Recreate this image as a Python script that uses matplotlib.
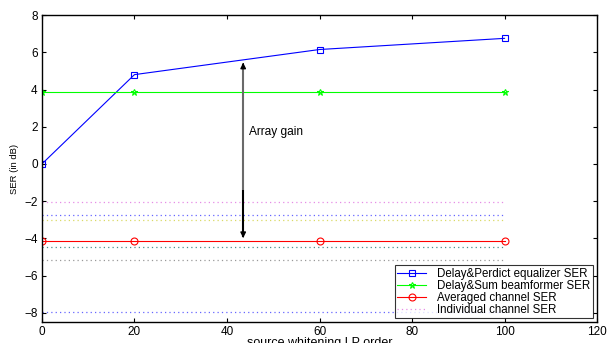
import matplotlib
matplotlib.use("Agg")
import matplotlib.pyplot as plt

plt.rcParams['font.family'] = ['Liberation Sans', 'DejaVu Sans']

orders = [0, 20, 60, 100]
dp_ser = [0.0, 4.8, 6.15, 6.75]
ds_ser = [3.85, 3.85, 3.85, 3.85]
avg_ser = [-4.13, -4.13, -4.13, -4.13]
indiv_x = [0, 100]
indiv_levels = [-2.02, -2.72, -3.04, -4.47, -5.14, -7.96]
indiv_colors = ['#e070e0', '#4040ff', '#d0d040', '#207070', '#808080', '#4040ff']
arrow_x = 43.5
arrow_top = 5.59
arrow_bottom = -4.13

fig = plt.figure(figsize=(6.08, 3.43), dpi=100)
ax = fig.add_axes([0.069, 0.061, 0.913, 0.895])

ax.plot(orders, dp_ser, '-s', color='blue', lw=0.8, ms=4, mfc='none', mew=0.8,
        label='Delay&Perdict equalizer SER')
ax.plot(orders, ds_ser, '-*', color='#00ff00', lw=0.8, ms=5, mfc='none', mew=0.8,
        label='Delay&Sum beamformer SER')
ax.plot(orders, avg_ser, '-o', color='red', lw=0.8, ms=5, mfc='none', mew=0.8,
        label='Averaged channel SER')
for i, (lvl, c) in enumerate(zip(indiv_levels, indiv_colors)):
    ax.plot(indiv_x, [lvl, lvl], linestyle=(0, (1, 2.5)), color=c, lw=0.9, alpha=0.8,
            label='Individual channel SER' if i == 0 else None)

mid = -1.4
ax.plot([arrow_x, arrow_x], [mid, arrow_top - 0.2], color='#6a6a6a', lw=1.5, zorder=6,
        solid_capstyle='butt')
ax.plot([arrow_x, arrow_x], [arrow_bottom + 0.2, mid], color='black', lw=1.5, zorder=6,
        solid_capstyle='butt')
ax.annotate('', xy=(arrow_x, arrow_top), xytext=(arrow_x, arrow_top - 0.4),
            arrowprops=dict(arrowstyle='-|>', color='black', lw=1, mutation_scale=8), zorder=7)
ax.annotate('', xy=(arrow_x, arrow_bottom), xytext=(arrow_x, arrow_bottom + 0.4),
            arrowprops=dict(arrowstyle='-|>', color='black', lw=1, mutation_scale=8), zorder=7)
ax.text(44.8, 1.7, 'Array gain', fontsize=8.6, va='center', ha='left')

ax.set_xlim(0, 120)
ax.set_ylim(-8.5, 8)
ax.set_xticks([0, 20, 40, 60, 80, 100, 120])
ax.set_yticks([-8, -6, -4, -2, 0, 2, 4, 6, 8])
ax.tick_params(direction='in', top=True, right=True, labelsize=8.5, length=3, pad=3)
ax.set_xlabel('source whitening LP order', fontsize=9, labelpad=-1)
ax.set_ylabel('SER (in dB)', fontsize=6.8, labelpad=4)
for s in ax.spines.values():
    s.set_linewidth(1.0)

leg = ax.legend(loc='lower right', fontsize=8.3, frameon=True, fancybox=False,
                edgecolor='black', borderpad=0.2, labelspacing=0.0,
                handlelength=2.5, handletextpad=1.0, borderaxespad=0.35)
leg.get_frame().set_linewidth(0.8)

fig.savefig('out.png', dpi=100)
